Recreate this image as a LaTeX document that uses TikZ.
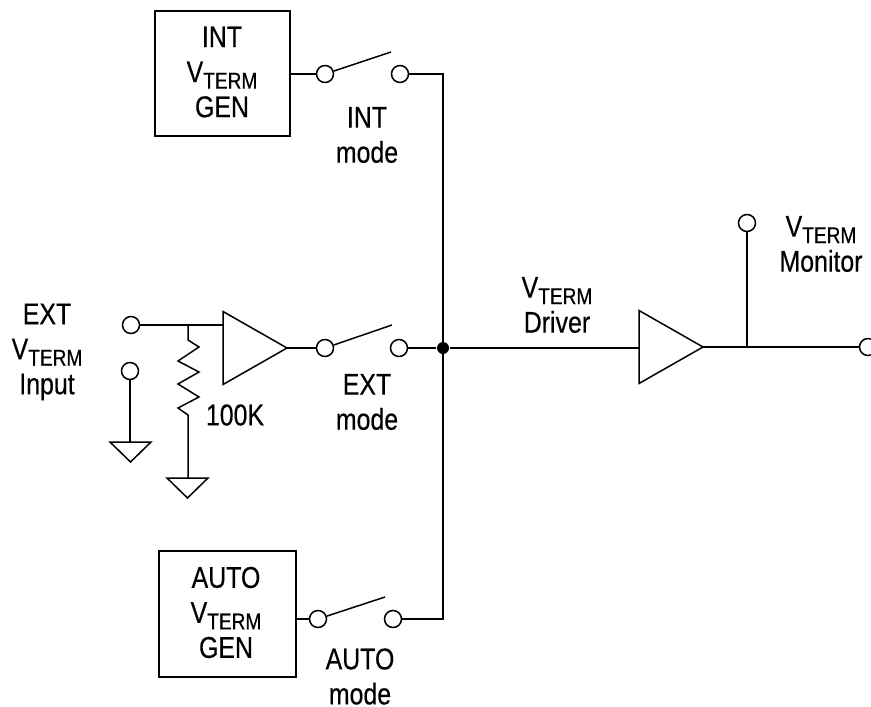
\documentclass[tikz,border=0pt]{standalone}
\usepackage{fontspec}
\setmainfont[FakeStretch=0.83,FakeBold=0.4]{Liberation Sans}
\usetikzlibrary{positioning,calc,shapes.geometric}
\newcommand{\VT}{V\raisebox{-6.5pt}[0pt][0pt]{\fontsize{23}{23}\selectfont TERM}}
\begin{document}
\begin{tikzpicture}[x=1pt,y=-1pt,line width=1.5pt,font=\fontsize{30}{35}\selectfont,
  box/.style={draw,align=center,inner sep=0pt},
  term/.style={circle,draw,fill=white,inner sep=0pt,minimum size=17pt},
  lbl/.style={align=center,inner sep=0pt},
  dot/.style={circle,fill=black,inner sep=0pt,minimum size=12pt},
  buf/.style={isosceles triangle,isosceles triangle apex angle=59.4,isosceles triangle stretches,
    draw,minimum height=64pt,minimum width=73pt,inner sep=0pt,outer sep=0pt,anchor=apex}]
\useasboundingbox (0,0) rectangle (871,707);
\def\xBus{443}\def\yInt{74}\def\yExt{348}\def\yAuto{619}
% boxes
\node[box,minimum width=135pt,minimum height=125pt] (intgen) at (222.5,73.5) {};
\node[box,minimum width=137pt,minimum height=126pt] (autogen) at (227.5,614) {};
\node[lbl] (intgenlab) at (222,72) {INT\\\VT\\GEN};
\node[lbl] (autgenlab) at (226,612.5) {AUTO\\\VT\\GEN};
% switches
\node[term] (ints1) at (325,\yInt) {};
\node[term] (ints2) at (400,\yInt) {};
\node[term] (exts1) at (325,\yExt) {};
\node[term] (exts2) at (399,\yExt) {};
\node[term] (auts1) at (318,\yAuto) {};
\node[term] (auts2) at (393,\yAuto) {};
\coordinate (inttip) at (391,52);
\coordinate (exttip) at (392,325);
\coordinate (auttip) at (385,597);
\draw (ints1) -- (inttip);
\draw (exts1) -- (exttip);
\draw (auts1) -- (auttip);
% bus
\node[dot] (junc) at (\xBus,\yExt) {};
\coordinate (bustop) at (\xBus,\yInt);
\coordinate (busbot) at (\xBus,\yAuto);
\draw (intgen.east |- ints1) -- (ints1);
\draw (autogen.east |- auts1) -- (auts1);
\draw (ints2) -- (bustop) -- (busbot) -- (auts2);
\draw (exts2) -- (junc);
% input side
\node[term] (extin) at (131,325) {};
\node[term] (extgnd) at (130,371) {};
\node[buf] (inbuf) at (287,348) {};
\coordinate (injoin) at (188,325);
\coordinate (rbot) at (188,415);
\coordinate (gndb) at (188,478);
\coordinate (gnda) at (130,442);
\draw (extin) -- (injoin) -- (injoin -| inbuf.west);
\draw (injoin) -- (188,340) -- (199,347) -- (178,361) -- (199,372) -- (178,384) -- (199,397) -- (178,408) -- (rbot) -- (gndb);
\draw (inbuf.apex) -- (exts1);
\draw (extgnd) -- (gnda);
\draw (110,442) -- (151,442) -- (130.5,462) -- cycle;
\draw (167,478) -- (208,478) -- (187.5,498) -- cycle;
% output side
\node[buf] (outbuf) at (703,347) {};
\node[term] (monitor) at (747,223) {};
\node[term] (output) at (868,347) {};
\coordinate (monjoin) at (747,347);
\draw (junc) -- (outbuf.west |- junc);
\draw (outbuf.apex) -- (output);
\draw (monitor) -- (monjoin);
% labels
\node[lbl] (intlab) at (367,135) {INT\\mode};
\node[lbl] (extlab) at (367,402) {EXT\\mode};
\node[lbl] (autlab) at (360,676.5) {AUTO\\mode};
\node[lbl] (rlab) at (235,415) {100K};
\node[lbl] (inlab) at (47,352) {EXT\\\VT\\Input};
\node[lbl] (drvlab) at (557,305) {\VT\\Driver};
\node[lbl] (monlab) at (821,244) {\VT\\Monitor};
\end{tikzpicture}
\end{document}
